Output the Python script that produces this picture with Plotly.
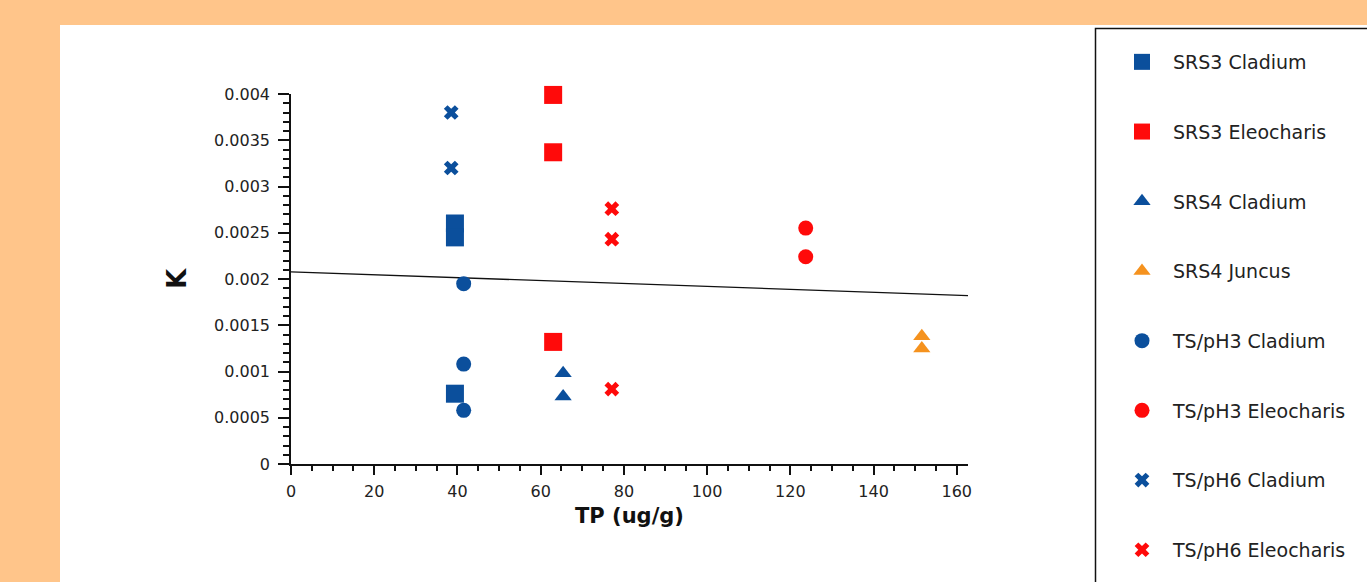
import plotly.graph_objects as go

# ---------------- data ----------------
series_names = ["SRS3 Cladium", "SRS3 Eleocharis", "SRS4 Cladium", "SRS4 Juncus",
                "TS/pH3 Cladium", "TS/pH3 Eleocharis", "TS/pH6 Cladium", "TS/pH6 Eleocharis"]

srs3_cladium_tp = [39.4, 39.4, 39.4]
srs3_cladium_k = [0.00260, 0.00245, 0.00076]

srs3_eleocharis_tp = [63.0, 63.0, 63.0]
srs3_eleocharis_k = [0.00399, 0.00337, 0.00132]

srs4_cladium_tp = [65.4, 65.4]
srs4_cladium_k = [0.00098, 0.00073]

srs4_juncus_tp = [151.6, 151.6]
srs4_juncus_k = [0.00138, 0.00125]

tsph3_cladium_tp = [41.5, 41.5, 41.5]
tsph3_cladium_k = [0.00195, 0.00108, 0.00058]

tsph3_eleocharis_tp = [123.7, 123.7]
tsph3_eleocharis_k = [0.00255, 0.00224]

tsph6_cladium_tp = [38.5, 38.5]
tsph6_cladium_k = [0.00380, 0.00320]

tsph6_eleocharis_tp = [77.1, 77.1, 77.1]
tsph6_eleocharis_k = [0.00276, 0.00243, 0.00081]

trend_tp = [0.0, 162.7]
trend_k = [0.002078, 0.001821]

x_tick_vals = [0, 20, 40, 60, 80, 100, 120, 140, 160]
y_tick_vals = [0, 0.0005, 0.001, 0.0015, 0.002, 0.0025, 0.003, 0.0035, 0.004]
y_tick_text = ["0", "0.0005", "0.001", "0.0015", "0.002", "0.0025", "0.003", "0.0035", "0.004"]

# ---------------- styling ----------------
BLUE = "#0B4F9C"
RED = "#FF0A0A"
ORANGE = "#F5921E"
FONT = "DejaVu Sans"

W, H = 1367, 582
L, R, T, B = 291, W - 968, 94, H - 464
PW, PH = W - L - R, H - T - B


def px_x(px):
    return (px - L) / PW


def px_y(py):
    return (H - B - py) / PH


series = [
    (series_names[0], srs3_cladium_tp, srs3_cladium_k, "square", BLUE, 18),
    (series_names[1], srs3_eleocharis_tp, srs3_eleocharis_k, "square", RED, 18),
    (series_names[2], srs4_cladium_tp, srs4_cladium_k, "triangle-up", BLUE, 15),
    (series_names[3], srs4_juncus_tp, srs4_juncus_k, "triangle-up", ORANGE, 15),
    (series_names[4], tsph3_cladium_tp, tsph3_cladium_k, "circle", BLUE, 15),
    (series_names[5], tsph3_eleocharis_tp, tsph3_eleocharis_k, "circle", RED, 15),
    (series_names[6], tsph6_cladium_tp, tsph6_cladium_k, "x", BLUE, 13),
    (series_names[7], tsph6_eleocharis_tp, tsph6_eleocharis_k, "x", RED, 13),
]

fig = go.Figure()

fig.add_trace(go.Scatter(x=trend_tp, y=trend_k, mode="lines",
                         line=dict(color="#111111", width=1.3),
                         showlegend=False, hoverinfo="skip"))

for i, (name, xs, ys, sym, col, size) in enumerate(series):
    fig.add_trace(go.Scatter(
        x=xs, y=ys, mode="markers", name=name, legendgroup=f"g{i}",
        cliponaxis=False,
        marker=dict(symbol=sym, color=col, size=size, line=dict(width=0)),
    ))

fig.update_layout(
    width=W, height=H,
    margin=dict(l=L, r=R, t=T, b=B, autoexpand=False),
    paper_bgcolor="#FFC58A",
    plot_bgcolor="white",
    font=dict(family=FONT, color="#222222"),
    showlegend=True,
    legend=dict(
        x=px_x(1111), xanchor="left",
        yref="container", y=1 - 43 / H, yanchor="top",
        maxheight=2000,
        traceorder="grouped", tracegroupgap=42.0,
        itemwidth=52,
        font=dict(family=FONT, size=19, color="#222222"),
        bgcolor="rgba(0,0,0,0)", borderwidth=0,
        itemsizing="trace",
    ),
    shapes=[
        dict(type="rect", xref="paper", yref="paper", layer="below",
             x0=px_x(60), x1=px_x(W + 20), y0=px_y(25), y1=px_y(H + 20),
             fillcolor="white", line=dict(width=0)),
        dict(type="rect", xref="paper", yref="paper", layer="above",
             x0=px_x(1095.5), x1=px_x(W + 20), y0=px_y(28.5), y1=px_y(H + 20),
             fillcolor="rgba(0,0,0,0)", line=dict(color="#111111", width=1.5)),
    ],
)

fig.update_xaxes(
    range=[0, 162.7],
    tickmode="array", tickvals=x_tick_vals,
    ticks="outside", ticklen=9, tickwidth=1.5, tickcolor="#111111",
    minor=dict(dtick=5, ticks="outside", ticklen=5, tickwidth=1.5, tickcolor="#111111"),
    showline=True, linecolor="#111111", linewidth=1.5,
    showgrid=False, zeroline=False,
    tickfont=dict(family=FONT, size=16, color="#222222"),
    ticklabelstandoff=3,
    title=dict(text="<b>TP (ug/g)</b>", font=dict(family=FONT, size=21, color="#111111"),
               standoff=8),
)

fig.update_yaxes(
    range=[0, 0.004],
    tickmode="array", tickvals=y_tick_vals, ticktext=y_tick_text,
    ticks="outside", ticklen=11, tickwidth=1.5, tickcolor="#111111",
    minor=dict(dtick=0.0001, ticks="outside", ticklen=6, tickwidth=1.5, tickcolor="#111111"),
    showline=True, linecolor="#111111", linewidth=1.5,
    showgrid=False, zeroline=False,
    tickfont=dict(family=FONT, size=16, color="#222222"),
    ticklabelstandoff=5,
    title=dict(text="<b>K</b>", font=dict(family=FONT, size=26, color="#111111"),
               standoff=20),
)

fig.write_html(
    "out.html",
    config={"displayModeBar": False},
    post_script="document.body.style.margin='0px';document.body.style.overflow='hidden';",
)
